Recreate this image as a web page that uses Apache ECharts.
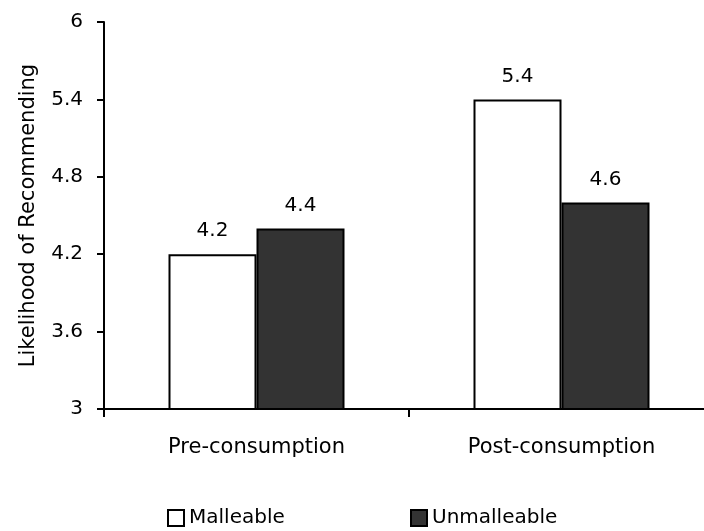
<!DOCTYPE html>
<html>
<head>
<meta charset="utf-8">
<script src="https://cdn.jsdelivr.net/npm/echarts@6/dist/echarts.min.js"></script>
<style>
  html, body { margin: 0; padding: 0; background: #fff; }
  #chart { width: 704px; height: 531px; }
</style>
</head>
<body>
<div id="chart"></div>
<script>
// Recommendation likelihood by consumption stage
const categories = ['Pre-consumption', 'Post-consumption'];
const malleable = [4.2, 5.4];
const unmalleable = [4.4, 4.6];
const yTicks = { min: 3, max: 6, step: 0.6 };

const FONT = '"DejaVu Sans", Verdana, sans-serif';

const chart = echarts.init(document.getElementById('chart'), null, { renderer: 'canvas' });

const labelStyle = {
  show: true,
  position: 'top',
  distance: 13,
  color: '#000',
  fontFamily: FONT,
  fontSize: 20,
  formatter: p => p.value.toFixed(1)
};

const legendText = { fontFamily: FONT, fontSize: 20, color: '#000' };

chart.setOption({
  animation: false,
  backgroundColor: '#fff',
  grid: { left: 104, top: 22, width: 610, bottom: 122, containLabel: false, outerBoundsMode: 'none' },
  legend: [
    {
      data: ['Malleable'],
      left: 167, top: 508, padding: 0,
      itemWidth: 16, itemHeight: 16, itemGap: 0,
      textStyle: legendText,
      icon: 'rect'
    },
    {
      data: ['Unmalleable'],
      left: 410, top: 508, padding: 0,
      itemWidth: 16, itemHeight: 16, itemGap: 0,
      textStyle: legendText,
      icon: 'rect'
    }
  ],
  xAxis: {
    type: 'category',
    data: categories,
    axisLine: { lineStyle: { color: '#000', width: 2 } },
    axisTick: { show: true, length: 8, lineStyle: { color: '#000', width: 2 } },
    axisLabel: { color: '#000', fontFamily: FONT, fontSize: 21, margin: 28 }
  },
  yAxis: {
    type: 'value',
    min: yTicks.min,
    max: yTicks.max,
    interval: yTicks.step,
    name: 'Likelihood of Recommending',
    nameLocation: 'middle',
    nameGap: 65,
    nameTextStyle: { color: '#000', fontFamily: FONT, fontSize: 21 },
    axisLine: { show: true, lineStyle: { color: '#000', width: 2 } },
    axisTick: { show: true, length: 7, lineStyle: { color: '#000', width: 2 } },
    axisLabel: {
      color: '#000', fontFamily: FONT, fontSize: 20, margin: 21,
      formatter: v => (Math.round(v * 10) / 10).toString()
    },
    splitLine: { show: false }
  },
  series: [
    {
      name: 'Malleable',
      type: 'bar',
      data: malleable,
      barWidth: 88,
      barGap: '0%',
      itemStyle: { color: '#fff', borderColor: '#000', borderWidth: 2 },
      label: labelStyle
    },
    {
      name: 'Unmalleable',
      type: 'bar',
      data: unmalleable,
      barWidth: 88,
      barGap: '0%',
      itemStyle: { color: '#333333', borderColor: '#000', borderWidth: 2 },
      label: labelStyle
    }
  ]
});
</script>
</body>
</html>
